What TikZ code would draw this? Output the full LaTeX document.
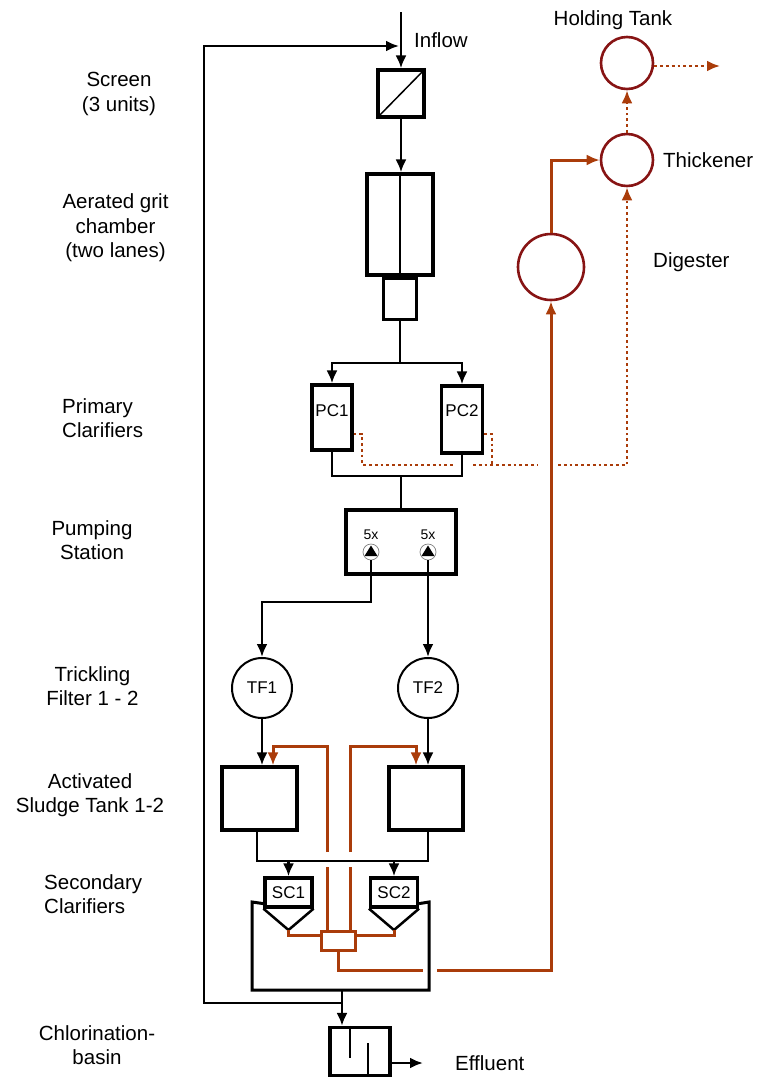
\documentclass[tikz,border=0pt]{standalone}
\usepackage{fontspec}
\setmainfont{Liberation Sans}
\usetikzlibrary{arrows.meta,calc}
\definecolor{sludge}{RGB}{170,60,10}
\definecolor{tank}{RGB}{135,20,20}
\begin{document}
\begin{tikzpicture}[x=1pt,y=-1pt,
  blk/.style={draw,line width=3.2pt,inner sep=0pt},
  line/.style={line width=2.7pt},
  flow/.style={line width=2.7pt,-{Latex[length=13pt,width=11pt]}},
  sl/.style={draw=sludge,line width=3pt},
  slarrow/.style={sl,-{Latex[length=13pt,width=11pt]}},
  sdot/.style={draw=sludge,line width=2.8pt,dash pattern=on 2.8pt off 3pt},
  dotarrow/.style={sdot,-{Latex[length=13pt,width=11pt]}},
  tankc/.style={circle,draw=tank,line width=2.6pt,inner sep=0pt},
  lbl/.style={font=\fontsize{20.5}{24.5}\selectfont,align=center,inner sep=0pt},
  sm/.style={font=\fontsize{17}{20}\selectfont,inner sep=0pt},
  tiny/.style={font=\fontsize{14}{16}\selectfont,inner sep=0pt}]
\useasboundingbox (0,0) rectangle (769,1077);

% ---- main line ----
\node[blk,minimum width=46,minimum height=47] (scr) at (401,93.5) {};
\draw[line width=1.5pt] (scr.south west) -- (scr.north east);
\node[blk,minimum width=66,minimum height=101] (grit) at (400,224.5) {};
\draw[line width=1.5pt] (grit.north) -- (grit.south);
\node[blk,minimum width=33,minimum height=41,anchor=north] (gritb) at (grit.south) {};

\coordinate (top) at (401,12);
\draw[flow] (top) -- (scr.north);
\node[lbl,anchor=west] (inflowt) at (414,40) {Inflow};
\draw[flow] (scr.south) -- (scr.south |- grit.north);

\coordinate (split) at (400,363);
\draw[line] (gritb.south) -- (split);
\node[blk,minimum width=40,minimum height=65] (pc1) at (332,417.5) {};
\node[blk,minimum width=41,minimum height=67] (pc2) at (462,419.5) {};
\node[sm] (pc1t) at (332,411) {PC1};
\node[sm] (pc2t) at (462,411) {PC2};
\draw[flow] (split) -| (pc1.north);
\draw[flow] (split) -| (pc2.north);

\coordinate (join1) at (401,476);
\node[blk,minimum width=110,minimum height=64] (ps) at (401,542) {};
\draw[line] (pc1.south) |- (join1) -| (pc2.south);
\draw[line] (join1) -- (ps.north);

% pumps
\node[circle,draw=gray,fill=white,line width=0.7pt,minimum size=16,inner sep=0pt] (p1) at (371,552) {};
\node[circle,draw=gray,fill=white,line width=0.7pt,minimum size=16,inner sep=0pt] (p2) at (428,552) {};
\fill ($(p1)+(-6.5,4)$) -- ($(p1)+(6.5,4)$) -- ($(p1)+(0,-6.5)$) -- cycle;
\fill ($(p2)+(-6.5,4)$) -- ($(p2)+(6.5,4)$) -- ($(p2)+(0,-6.5)$) -- cycle;
\node[tiny] (p1t) at (371,535) {5x};
\node[tiny] (p2t) at (428,535) {5x};

% trickling filters
\node[circle,draw,line width=2pt,minimum size=60,inner sep=0pt,sm] (tf1) at (262,688) {TF1};
\node[circle,draw,line width=2pt,minimum size=60,inner sep=0pt,sm] (tf2) at (428,688) {TF2};
\coordinate (bend1) at (262,602);
\draw[flow] (p1.south) |- (bend1) -- (tf1.north);
\draw[flow] (p2.south) -- (tf2.north);

% activated sludge tanks
\node[blk,minimum width=75,minimum height=63] (as1) at (259.5,798.5) {};
\node[blk,minimum width=74,minimum height=63] (as2) at (426,798.5) {};
\draw[flow] (tf1.south) -- (tf1.south |- as1.north);
\draw[flow] (tf2.south) -- (tf2.south |- as2.north);

% secondary clarifiers
\node[blk,minimum width=47,minimum height=29,sm] (sc1) at (288.5,892.5) {SC1};
\node[blk,minimum width=47,minimum height=29,sm] (sc2) at (394,892.5) {SC2};
\coordinate (a1) at (288.5,930);
\coordinate (a2) at (394,930);
\draw[line width=2.5pt] (sc1.south west) -- (a1) -- (sc1.south east);
\draw[line width=2.5pt] (sc2.south west) -- (a2) -- (sc2.south east);

\coordinate (j2r) at (428,861);
\draw[line] ($(as1.south)+(-2.5,0)$) |- (j2r) -- (j2r |- as2.south);
\draw[flow] (sc1.north |- j2r) -- (sc1.north);
\draw[flow] (sc2.north |- j2r) -- (sc2.north);

% frame around clarifiers
\coordinate (f1) at (252,902);
\coordinate (f2) at (252,990);
\coordinate (f3) at (429,990);
\coordinate (f4) at (429,902);
\draw[line,line width=3pt] ($(sc1.south west)+(0,-5)$) -- (f1) -- (f2) -- (f3) -- (f4) -- ($(sc2.south east)+(0,-5)$);

% chlorination
\node[blk,minimum width=60,minimum height=48] (chl) at (360,1051.5) {};
\draw[line width=2pt] ($(chl.north west)+(22,0)$) -- ++(0,32);
\draw[line width=2pt] ($(chl.south west)+(40,0)$) -- ++(0,-34);
\coordinate (j3) at (342,990);
\coordinate (j4) at (342,1003);
\draw[line] (j3) -- (j4);
\draw[flow] (j4) -- (j4 |- chl.north);
\coordinate (eff) at (423,1063);
\draw[flow] (chl.east |- eff) -- (eff);
\node[lbl,anchor=west] (efft) at (455,1063) {Effluent};

% return loop
\coordinate (lb) at (204,1003);
\coordinate (lt) at (204,46);
\coordinate (inl) at (399,46);
\draw[flow] (j4) -- (lb) -- (lt) -- (inl);

% ---- sludge line ----
\node[tankc,minimum size=66] (dig) at (551,267) {};
\node[tankc,minimum size=52] (thk) at (627,160) {};
\node[tankc,minimum size=52] (hold) at (627,63) {};
\node[lbl] (holdt) at (613,20) {Holding Tank};
\node[lbl,anchor=west] (thkt) at (663,160) {Thickener};
\node[lbl,anchor=west] (digt) at (653,262) {Digester};

\draw[slarrow] (dig.north) |- (thk.west);
\draw[dotarrow] (thk.north) -- (hold.south);
\coordinate (hx) at (720,66);
\draw[dotarrow] (hold.east |- hx) -- (hx);

% recirculated sludge to activated sludge tanks
\coordinate (r1a) at (327,852);
\coordinate (r1t) at (327,746);
\coordinate (r1b) at (327,867);
\coordinate (r2a) at (350,852);
\coordinate (r2t) at (350,746);
\coordinate (r2b) at (350,867);
\node[draw=sludge,line width=3pt,minimum width=34,minimum height=19,inner sep=0pt] (col) at (338,940.5) {};
\draw[slarrow] (r1a) -- (r1t) -| ($(as1.north)+(13.5,0)$);
\draw[slarrow] (r2a) -- (r2t) -| ($(as2.north)+(-10,0)$);
\draw[sl] (r1b) -- (r1b |- col.north);
\draw[sl] (r2b) -- (r2b |- col.north);
\draw[sl] (a1) |- ($(col.west)+(0,-5.5)$);
\draw[sl] (a2) |- ($(col.east)+(0,-5.5)$);
\coordinate (g1) at (423,970);
\coordinate (g2) at (437,970);
\draw[sl] (col.south) |- (g1);
\draw[slarrow] (g2) -| (dig.south);

% primary sludge (dotted)
\coordinate (d1a) at (362,434);
\coordinate (d1b) at (362,465);
\coordinate (d1c) at (453,465);
\draw[sdot] (pc1.east |- d1a) -- (d1a) -- (d1b) -- (d1c);
\coordinate (d2a) at (492,434);
\coordinate (d2b) at (492,465);
\coordinate (d2c) at (473,465);
\coordinate (d2d) at (538,465);
\draw[sdot] (pc2.east |- d2a) -- (d2a) -- (d2b);
\draw[sdot] (d2c) -- (d2d);
\coordinate (d3) at (558,465);
\coordinate (d4) at (627,465);
\draw[dotarrow] (d3) -- (d4) -- (thk.south);

% ---- left labels ----
\node[lbl] (l1) at (119,94) {Screen\\(3 units)};
\node[lbl] (l2) at (115.5,228) {Aerated grit\\chamber\\(two lanes)};
\node[lbl,align=left,anchor=west] (l3) at (62,418) {Primary\\Clarifiers};
\node[lbl] (l4) at (92,540) {Pumping\\Station};
\node[lbl] (l5) at (92.5,686) {Trickling\\Filter 1 - 2};
\node[lbl] (l6) at (90,795) {Activated\\Sludge Tank 1-2};
\node[lbl,align=left,anchor=west] (l7) at (44,894) {Secondary\\Clarifiers};
\node[lbl] (l8) at (97,1045) {Chlorination-\\basin};
\end{tikzpicture}
\end{document}
